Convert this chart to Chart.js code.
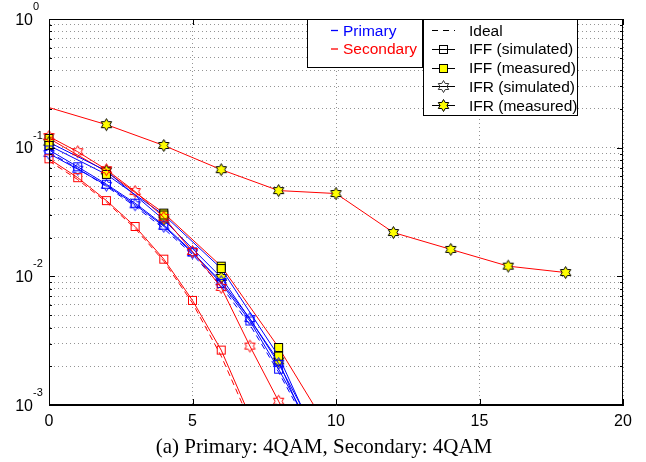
<!DOCTYPE html>
<html><head><meta charset="utf-8">
<script src="https://cdn.jsdelivr.net/npm/chart.js@4.4.1/dist/chart.umd.min.js"></script>
<style>html,body{margin:0;padding:0;background:#fff;}#wrap{width:646px;height:462px;position:relative;}</style>
</head><body><div id="wrap"><canvas id="c" width="646" height="462"></canvas></div>
<script>
// ---- data ----
const snrSim = [0,1,2,3,4,5,6,7,8,9,10];
const snrMeas = [0,2,4,6,8,10];
const snrMeasLong = [0,2,4,6,8,10,12,14,16,18];

const priIdeal   = [0.092,0.069,0.050,0.035,0.0235,0.0148,0.0084,0.0042,0.0018,0.0007,0.00025];
const priIffSim  = [0.096,0.071,0.052,0.037,0.025,0.0155,0.0088,0.0045,0.0019,0.00075,0.00027];
const priIfrSim  = [0.090,0.068,0.051,0.036,0.0245,0.0152,0.0091,0.0047,0.0021,0.0008,0.0003];
const priIffMeas = [0.104,0.062,0.030,0.0115,0.0024,0.00025];
const priIfrMeas = [0.110,0.066,0.0275,0.0098,0.0022,0.0002];

const secIdeal   = [0.079,0.0565,0.0378,0.0236,0.0131,0.0062,0.0024,0.00075];
const secIffSim  = [0.082,0.0585,0.0388,0.0244,0.0136,0.0065,0.00267,0.00082];
const secIfrSim  = [0.122,0.093,0.0675,0.0456,0.0287,0.0156,0.0082,0.00287,0.00107,0.0004];
const secIffMeas = [0.118,0.065,0.031,0.012,0.0028,0.00052];
const secIfrMeas = [0.205,0.151,0.104,0.0675,0.0464,0.044,0.0219,0.0162,0.012,0.0107];

const xTickLabels = ['0','5','10','15','20'];
const yTickExps = ['0','-1','-2','-3'];
const groupLegend = ['Primary','Secondary'];
const typeLegend = ['Ideal','IFF (simulated)','IFF (measured)','IFR (simulated)','IFR (measured)'];
const caption = '(a) Primary: 4QAM, Secondary: 4QAM';

// ---- styles ----
const BLUE='#0000ff', RED='#ff0000', YEL='#ffff00', BLK='#000000';
function hexPath(ctx,cx,cy,R){
  const r=R/Math.sqrt(3);ctx.beginPath();
  for(let k=0;k<12;k++){const a=-Math.PI/2+k*Math.PI/6;const rr=k%2===0?R:r;ctx.lineTo(cx+rr*Math.cos(a),cy+rr*Math.sin(a));}
  ctx.closePath();
}
function marker(kind,fill,stroke){
  const c=document.createElement('canvas');c.width=17;c.height=17;const g=c.getContext('2d');
  g.lineWidth=1;g.strokeStyle=stroke;
  if(kind==='sq'){ if(fill){g.fillStyle=fill;g.fillRect(4.5,4.5,8,8);} g.strokeRect(4.5,4.5,8,8); }
  else { hexPath(g,8.5,8.5,6.0); if(fill){g.fillStyle=fill;g.fill();} g.stroke(); }
  return c;
}
const mk = {
  sqB: marker('sq',null,BLUE), sqR: marker('sq',null,RED), sqY: marker('sq',YEL,BLK), sqK: marker('sq',null,BLK),
  hxB: marker('hx',null,BLUE), hxR: marker('hx',null,RED), hxY: marker('hx',YEL,BLK), hxK: marker('hx',null,'#333')
};
function pts(xs,ys){return ys.map((y,i)=>({x:xs[i],y:y}));}
function ds(xs,ys,color,style,dash){
  return {data:pts(xs,ys),borderColor:color,borderWidth:1,borderDash:dash||[],pointStyle:style||false,
    pointRadius:style?5:0,fill:false,tension:0,clip:{left:12,top:12,right:12,bottom:0}};
}
const secIfrMeasDs = ds(snrMeasLong,secIfrMeas,RED,mk.hxY);
secIfrMeasDs.pointRadius = secIfrMeas.map((v,i)=>i===0?0:5);

const datasets = [
  ds(snrSim,secIdeal,RED,null,[6,4]),
  ds(snrSim,secIffSim,RED,mk.sqR),
  ds(snrSim,secIfrSim,RED,mk.hxR),
  secIfrMeasDs,
  ds(snrSim,priIdeal,BLUE,null,[6,4]),
  ds(snrSim,priIffSim,BLUE,mk.sqB),
  ds(snrSim,priIfrSim,BLUE,mk.hxB),
  ds(snrMeas,priIffMeas,BLUE,mk.sqY),
  ds(snrMeas,priIfrMeas,BLUE,mk.hxY),
  ds(snrMeas,secIffMeas,RED,mk.sqY),
];

const SANS='"Liberation Sans", Arial, Helvetica, sans-serif';
const SERIF='"Liberation Serif", "Times New Roman", serif';

const decor = {
  id:'decor',
  afterDraw(chart){
    const ctx=chart.ctx, a=chart.chartArea, xs=chart.scales.x, ys=chart.scales.y;
    ctx.save();
    // box
    ctx.strokeStyle=BLK;ctx.lineWidth=1;ctx.setLineDash([]);
    ctx.strokeRect(Math.round(a.left)+0.5,Math.round(a.top)+0.5,Math.round(a.right-a.left)-1,Math.round(a.bottom-a.top)-1);
    // inner ticks
    ctx.beginPath();
    for(let e=-3;e<=0;e++){
      for(let m=1;m<=9;m++){
        const v=m*Math.pow(10,e); if(v>1) break;
        const y=Math.round(ys.getPixelForValue(v))+0.5; const L=(m===1)?6:3;
        ctx.moveTo(a.left,y);ctx.lineTo(a.left+L,y);ctx.moveTo(a.right,y);ctx.lineTo(a.right-L,y);
      }
    }
    xTickLabels.forEach(t=>{const x=Math.round(xs.getPixelForValue(Number(t)))+0.5;
      ctx.moveTo(x,a.bottom);ctx.lineTo(x,a.bottom-6);ctx.moveTo(x,a.top);ctx.lineTo(x,a.top+6);});
    ctx.stroke();
    // x labels
    ctx.fillStyle=BLK;ctx.font='16px '+SANS;ctx.textAlign='center';ctx.textBaseline='alphabetic';
    xTickLabels.forEach(t=>{ctx.fillText(t,xs.getPixelForValue(Number(t)),a.bottom+21);});
    // y labels
    yTickExps.forEach(ex=>{
      const y=ys.getPixelForValue(Math.pow(10,Number(ex)));
      ctx.font='16px '+SANS;ctx.textAlign='right';ctx.fillText('10',33,y+5.5);
      ctx.font='11px '+SANS;ctx.textAlign='left';ctx.fillText(ex,33,y-9);
    });
    // caption
    ctx.font='21px '+SERIF;ctx.textAlign='center';ctx.fillText(caption,324,453);
    // legend 1
    ctx.fillStyle='#fff';ctx.fillRect(307,19,115,48);ctx.strokeStyle=BLK;ctx.strokeRect(307.5,19.5,115,48);
    const gcol=[BLUE,RED];
    groupLegend.forEach((t,i)=>{const y=30+i*18.5;
      ctx.strokeStyle=gcol[i];ctx.lineWidth=1.3;ctx.beginPath();ctx.moveTo(331,y+0.5);ctx.lineTo(338,y+0.5);ctx.stroke();
      ctx.fillStyle=gcol[i];ctx.font='15.5px '+SANS;ctx.textAlign='left';ctx.fillText(t,343,y+5.5);});
    // legend 2
    ctx.lineWidth=1;ctx.fillStyle='#fff';ctx.fillRect(423,19,154,96);ctx.strokeStyle=BLK;ctx.strokeRect(423.5,19.5,154,96);
    const lm=[null,mk.sqK,mk.sqY,mk.hxK,mk.hxY];
    typeLegend.forEach((t,i)=>{const y=30+i*18.8;
      ctx.strokeStyle=BLK;ctx.lineWidth=1;ctx.setLineDash(i===0?[6,5]:[]);
      ctx.beginPath();ctx.moveTo(432,Math.round(y)+0.5);ctx.lineTo(455,Math.round(y)+0.5);ctx.stroke();ctx.setLineDash([]);
      if(lm[i]) ctx.drawImage(lm[i],443.5-8.5,Math.round(y)+0.5-8.5);
      ctx.fillStyle=BLK;ctx.font='15.5px '+SANS;ctx.textAlign='left';ctx.fillText(t,469,y+5.5);});
    ctx.restore();
  }
};

new Chart(document.getElementById('c'),{
  type:'line',
  data:{datasets},
  options:{
    responsive:false,animation:false,events:[],
    layout:{padding:{left:49,right:23,top:19,bottom:57}},
    plugins:{legend:{display:false},tooltip:{enabled:false},title:{display:false}},
    scales:{
      x:{type:'linear',min:0,max:20,
        afterBuildTicks:s=>{s.ticks=xTickLabels.map(t=>({value:Number(t)}));},
        ticks:{display:false},grid:{drawTicks:false,color:'rgba(0,0,0,0.42)',lineWidth:1},
        border:{display:true,color:BLK,width:1,dash:[1,3]}},
      y:{type:'logarithmic',min:0.001,max:1,
        afterBuildTicks:s=>{const t=[];for(let e=-3;e<=0;e++){for(let m=1;m<=9;m++){const v=m*Math.pow(10,e);if(v<=1.0000001)t.push({value:v});}}s.ticks=t;},
        ticks:{display:false},grid:{drawTicks:false,color:'rgba(0,0,0,0.42)',lineWidth:1},
        border:{display:true,color:BLK,width:1,dash:[1,3]}}
    }
  },
  plugins:[decor]
});
</script></body></html>
